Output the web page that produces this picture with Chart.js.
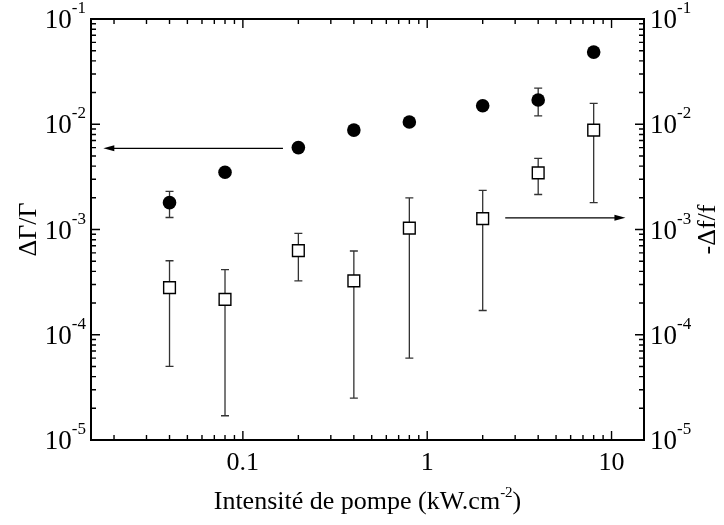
<!DOCTYPE html>
<html>
<head>
<meta charset="utf-8">
<script src="https://cdn.jsdelivr.net/npm/chart.js@4.4.1/dist/chart.umd.min.js"></script>
<style>
  html, body { margin: 0; padding: 0; background: #fff; }
</style>
</head>
<body>
<canvas id="chart" width="724" height="525"></canvas>
<script>
// intensité de pompe (kW.cm-2)
const intensite = [0.04, 0.08, 0.2, 0.4, 0.8, 2, 4, 8];

// ΔΓ/Γ (points pleins, axe de gauche)
const dGamma = [1.8e-3, 3.5e-3, 6.0e-3, 8.8e-3, 1.05e-2, 1.5e-2, 1.7e-2, 4.85e-2];
const dGammaLow = [1.3e-3, null, null, null, null, null, 1.2e-2, null];
const dGammaHigh = [2.3e-3, null, null, null, null, null, 2.2e-2, null];

// -Δf/f (carrés vides, axe de droite)
const dFreq = [2.8e-4, 2.17e-4, 6.3e-4, 3.25e-4, 1.03e-3, 1.27e-3, 3.45e-3, 8.8e-3];
const dFreqLow = [5.0e-5, 1.7e-5, 3.25e-4, 2.5e-5, 6.0e-5, 1.7e-4, 2.15e-3, 1.8e-3];
const dFreqHigh = [5.05e-4, 4.15e-4, 9.2e-4, 6.25e-4, 2.0e-3, 2.35e-3, 4.75e-3, 1.58e-2];

// ticks
const xTickLabels = [0.1, 1, 10];
const yDecades = [1e-5, 1e-4, 1e-3, 1e-2, 1e-1];

// flèches (x de départ, x d'arrivée, y)
const arrowLeftX = [0.165, 0.0175];
const arrowLeftY = 5.9e-3;
const arrowRightX = [2.65, 11.9];
const arrowRightY = 1.29e-3;

const serif = "'Liberation Serif', 'Times New Roman', serif";
const ink = "#000";

const minorValues = (min, max) => {
  const out = [];
  for (let e = Math.floor(Math.log10(min)); e <= Math.ceil(Math.log10(max)); e++) {
    for (let k = 1; k <= 9; k++) {
      const v = k * Math.pow(10, e);
      if (v >= min * 0.999 && v <= max * 1.001) out.push({ v, major: k === 1 });
    }
  }
  return out;
};

const errorBars = {
  id: "errorBars",
  beforeDatasetsDraw(chart) {
    const { ctx, scales } = chart;
    const draw = (lows, highs, yScale) => {
      intensite.forEach((x, i) => {
        if (lows[i] == null) return;
        const px = scales.x.getPixelForValue(x);
        const top = yScale.getPixelForValue(highs[i]);
        const bot = yScale.getPixelForValue(lows[i]);
        ctx.beginPath();
        ctx.moveTo(px, top); ctx.lineTo(px, bot);
        ctx.moveTo(px - 4, top); ctx.lineTo(px + 4, top);
        ctx.moveTo(px - 4, bot); ctx.lineTo(px + 4, bot);
        ctx.stroke();
      });
    };
    ctx.save();
    ctx.strokeStyle = "#333";
    ctx.lineWidth = 1.3;
    draw(dGammaLow, dGammaHigh, scales.y);
    draw(dFreqLow, dFreqHigh, scales.y2);
    ctx.restore();
  }
};

const frame = {
  id: "frame",
  afterDraw(chart) {
    const { ctx, chartArea: a, scales } = chart;
    const { x, y, y2 } = scales;
    ctx.save();
    ctx.strokeStyle = ink;
    ctx.fillStyle = ink;

    // arrows
    const arrow = (xs, yv, yScale) => {
      const x0 = x.getPixelForValue(xs[0]);
      const x1 = x.getPixelForValue(xs[1]);
      const py = yScale.getPixelForValue(yv);
      const dir = Math.sign(x1 - x0);
      ctx.lineWidth = 1.2;
      ctx.beginPath();
      ctx.moveTo(x0, py); ctx.lineTo(x1 - dir * 8, py);
      ctx.stroke();
      ctx.beginPath();
      ctx.moveTo(x1, py);
      ctx.lineTo(x1 - dir * 11, py - 3);
      ctx.lineTo(x1 - dir * 11, py + 3);
      ctx.closePath();
      ctx.fill();
    };
    arrow(arrowLeftX, arrowLeftY, y);
    arrow(arrowRightX, arrowRightY, y2);

    // frame
    ctx.lineWidth = 2;
    ctx.strokeRect(a.left, a.top, a.right - a.left, a.bottom - a.top);

    // x ticks (bottom and top, inward)
    ctx.lineWidth = 1.4;
    minorValues(x.min, x.max).forEach(({ v, major }) => {
      const px = x.getPixelForValue(v);
      const len = major ? 9 : 5;
      ctx.beginPath();
      ctx.moveTo(px, a.bottom); ctx.lineTo(px, a.bottom - len);
      ctx.moveTo(px, a.top); ctx.lineTo(px, a.top + len);
      ctx.stroke();
    });
    // y ticks (left and right, inward)
    minorValues(y.min, y.max).forEach(({ v, major }) => {
      const len = major ? 9 : 5;
      const pl = y.getPixelForValue(v);
      const pr = y2.getPixelForValue(v);
      ctx.beginPath();
      ctx.moveTo(a.left, pl); ctx.lineTo(a.left + len, pl);
      ctx.moveTo(a.right, pr); ctx.lineTo(a.right - len, pr);
      ctx.stroke();
    });

    // x tick labels
    ctx.font = "26px " + serif;
    ctx.textAlign = "center";
    ctx.textBaseline = "alphabetic";
    xTickLabels.forEach((v) => {
      ctx.fillText(String(v), x.getPixelForValue(v), a.bottom + 30);
    });

    // y tick labels 10^n
    const powerLabel = (v, px, py, align) => {
      const exp = String(Math.round(Math.log10(v)));
      ctx.font = "27px " + serif;
      const wBase = ctx.measureText("10").width;
      ctx.font = "17px " + serif;
      const wExp = ctx.measureText(exp).width;
      const left = align === "right" ? px - wBase - wExp : px;
      ctx.textAlign = "left";
      ctx.font = "27px " + serif;
      ctx.fillText("10", left, py + 9);
      ctx.font = "17px " + serif;
      ctx.fillText(exp, left + wBase, py - 6);
    };
    yDecades.forEach((v) => {
      powerLabel(v, a.left - 5, y.getPixelForValue(v), "right");
      powerLabel(v, a.right + 6, y2.getPixelForValue(v), "left");
    });

    // axis titles
    const midY = (a.top + a.bottom) / 2;
    ctx.font = "26px " + serif;
    ctx.textAlign = "center";
    ctx.save();
    ctx.translate(36, midY);
    ctx.rotate(-Math.PI / 2);
    ctx.fillText("ΔΓ/Γ", 0, 0);
    ctx.restore();
    ctx.save();
    ctx.translate(706, midY);
    ctx.rotate(-Math.PI / 2);
    ctx.fillText("-Δf/f", 0, 9);
    ctx.restore();

    // x title with superscript
    const main = "Intensité de pompe (kW.cm";
    const sup = "-2";
    const tail = ")";
    ctx.font = "26px " + serif;
    const wMain = ctx.measureText(main).width;
    const wTail = ctx.measureText(tail).width;
    ctx.font = "15px " + serif;
    const wSup = ctx.measureText(sup).width;
    const cx = (a.left + a.right) / 2;
    const sx = cx - (wMain + wSup + wTail) / 2;
    const base = a.bottom + 69;
    ctx.textAlign = "left";
    ctx.font = "26px " + serif;
    ctx.fillText(main, sx, base);
    ctx.font = "15px " + serif;
    ctx.fillText(sup, sx + wMain, base - 12);
    ctx.font = "26px " + serif;
    ctx.fillText(tail, sx + wMain + wSup, base);
    ctx.restore();
  }
};

new Chart(document.getElementById("chart"), {
  type: "scatter",
  data: {
    datasets: [
      {
        label: "ΔΓ/Γ",
        data: intensite.map((v, i) => ({ x: v, y: dGamma[i] })),
        yAxisID: "y",
        pointStyle: "circle",
        pointRadius: 6.8,
        backgroundColor: ink,
        borderColor: ink,
        borderWidth: 0
      },
      {
        label: "-Δf/f",
        data: intensite.map((v, i) => ({ x: v, y: dFreq[i] })),
        yAxisID: "y2",
        pointStyle: "rect",
        pointRadius: 8.3,
        backgroundColor: "#fff",
        borderColor: ink,
        borderWidth: 1.4
      }
    ]
  },
  options: {
    responsive: false,
    animation: false,
    devicePixelRatio: 1,
    layout: { padding: { top: 19, left: 0, right: 0, bottom: 0 } },
    plugins: { legend: { display: false }, tooltip: { enabled: false } },
    scales: {
      x: {
        type: "logarithmic",
        min: 0.015,
        max: 15,
        ticks: { display: false },
        grid: { display: false },
        border: { display: false },
        afterFit: (s) => { s.height = 85; }
      },
      y: {
        type: "logarithmic",
        position: "left",
        min: 1e-5,
        max: 1e-1,
        ticks: { display: false },
        grid: { display: false },
        border: { display: false },
        afterFit: (s) => { s.width = 91; }
      },
      y2: {
        type: "logarithmic",
        position: "right",
        min: 1e-5,
        max: 1e-1,
        ticks: { display: false },
        grid: { display: false },
        border: { display: false },
        afterFit: (s) => { s.width = 80; }
      }
    }
  },
  plugins: [errorBars, frame]
});
</script>
</body>
</html>
